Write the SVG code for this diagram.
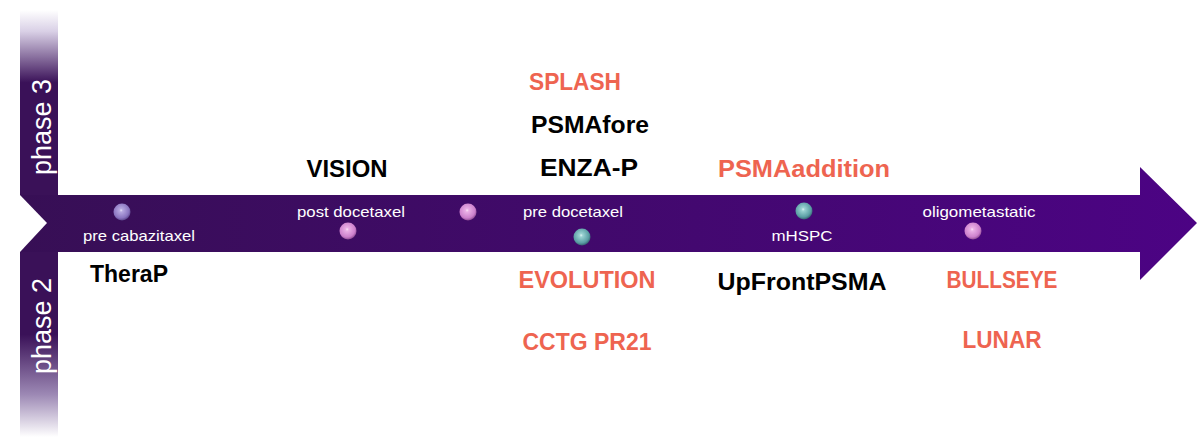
<svg xmlns="http://www.w3.org/2000/svg" width="1200" height="437" viewBox="0 0 1200 437">
  <defs>
    <linearGradient id="vbar" x1="0" y1="10" x2="0" y2="437" gradientUnits="userSpaceOnUse">
      <stop offset="0" stop-color="#ffffff"/>
      <stop offset="0.05" stop-color="#d9d0e6"/>
      <stop offset="0.17" stop-color="#3a1158"/>
      <stop offset="0.76" stop-color="#3a1158"/>
      <stop offset="0.9" stop-color="#9c88b4"/>
      <stop offset="1" stop-color="#ffffff"/>
    </linearGradient>
    <linearGradient id="band" x1="20" y1="0" x2="1197" y2="0" gradientUnits="userSpaceOnUse">
      <stop offset="0" stop-color="#370f55"/>
      <stop offset="1" stop-color="#4c0384"/>
    </linearGradient>
    <radialGradient id="lav" cx="0.45" cy="0.4" r="0.65">
      <stop offset="0" stop-color="#e6e0f8"/>
      <stop offset="0.15" stop-color="#b6a8e0"/>
      <stop offset="0.7" stop-color="#8a74c0"/>
      <stop offset="1" stop-color="#4a3578"/>
    </radialGradient>
    <radialGradient id="pink" cx="0.45" cy="0.4" r="0.65">
      <stop offset="0" stop-color="#fbe6f8"/>
      <stop offset="0.15" stop-color="#eab0e6"/>
      <stop offset="0.7" stop-color="#cc80cc"/>
      <stop offset="1" stop-color="#7a3a80"/>
    </radialGradient>
    <radialGradient id="teal" cx="0.45" cy="0.4" r="0.65">
      <stop offset="0" stop-color="#e0f4f4"/>
      <stop offset="0.15" stop-color="#9ad2d2"/>
      <stop offset="0.7" stop-color="#5a9ea4"/>
      <stop offset="1" stop-color="#2a4a60"/>
    </radialGradient>
    <style>
      .ph { font-family: "Liberation Sans", Arial, sans-serif; font-size: 27px; fill: #ffffff; }
      .lbl { font-family: "Liberation Sans", Arial, sans-serif; font-size: 15px; fill: #ffffff; text-anchor: middle; }
      .trial { font-family: "Liberation Sans", Arial, sans-serif; font-size: 23px; font-weight: bold; text-anchor: middle; }
      .blk { fill: #000000; }
      .red { fill: #ee6450; }
    </style>
  </defs>

  <g id="axis">
    <rect x="20" y="10" width="38" height="427" fill="url(#vbar)"/>
    <polygon points="20,195 1140,195 1140,167 1197,223 1140,280 1140,252 20,252" fill="url(#band)"/>
    <polygon points="20,195 47,223 20,252" fill="#ffffff"/>
    <text class="ph" transform="translate(51,127) rotate(-90)" text-anchor="middle">phase 3</text>
    <text class="ph" transform="translate(51,326) rotate(-90)" text-anchor="middle">phase 2</text>
  </g>

  <g id="node-precabazitaxel">
    <circle cx="122" cy="212" r="8.5" fill="url(#lav)"/>
    <text class="lbl" x="139" y="241" textLength="112" lengthAdjust="spacingAndGlyphs">pre cabazitaxel</text>
    <text class="trial blk" x="129" y="282" textLength="78" lengthAdjust="spacingAndGlyphs">TheraP</text>
  </g>

  <g id="node-postdocetaxel">
    <circle cx="348" cy="231" r="8.5" fill="url(#pink)"/>
    <circle cx="468" cy="212" r="8.5" fill="url(#pink)"/>
    <text class="lbl" x="351" y="217" textLength="108" lengthAdjust="spacingAndGlyphs">post docetaxel</text>
    <text class="trial blk" x="347" y="177" textLength="81" lengthAdjust="spacingAndGlyphs">VISION</text>
  </g>

  <g id="node-predocetaxel">
    <circle cx="582" cy="237" r="8.5" fill="url(#teal)"/>
    <text class="lbl" x="573" y="217" textLength="100" lengthAdjust="spacingAndGlyphs">pre docetaxel</text>
    <text class="trial red" x="575" y="90" textLength="92" lengthAdjust="spacingAndGlyphs">SPLASH</text>
    <text class="trial blk" x="590" y="133" textLength="118" lengthAdjust="spacingAndGlyphs">PSMAfore</text>
    <text class="trial blk" x="589" y="176" textLength="98" lengthAdjust="spacingAndGlyphs">ENZA-P</text>
    <text class="trial red" x="587" y="288" textLength="137" lengthAdjust="spacingAndGlyphs">EVOLUTION</text>
    <text class="trial red" x="587" y="350" textLength="129" lengthAdjust="spacingAndGlyphs">CCTG PR21</text>
  </g>

  <g id="node-mhspc">
    <circle cx="804" cy="211" r="8.5" fill="url(#teal)"/>
    <text class="lbl" x="802" y="241" textLength="61" lengthAdjust="spacingAndGlyphs">mHSPC</text>
    <text class="trial red" x="804" y="177" textLength="172" lengthAdjust="spacingAndGlyphs">PSMAaddition</text>
    <text class="trial blk" x="802" y="290" textLength="169" lengthAdjust="spacingAndGlyphs">UpFrontPSMA</text>
  </g>

  <g id="node-oligometastatic">
    <circle cx="973" cy="231" r="8.5" fill="url(#pink)"/>
    <text class="lbl" x="979" y="217" textLength="113" lengthAdjust="spacingAndGlyphs">oligometastatic</text>
    <text class="trial red" x="1002" y="288" textLength="111" lengthAdjust="spacingAndGlyphs">BULLSEYE</text>
    <text class="trial red" x="1002" y="348" textLength="79" lengthAdjust="spacingAndGlyphs">LUNAR</text>
  </g>

  <g id="connectors"></g>
</svg>
